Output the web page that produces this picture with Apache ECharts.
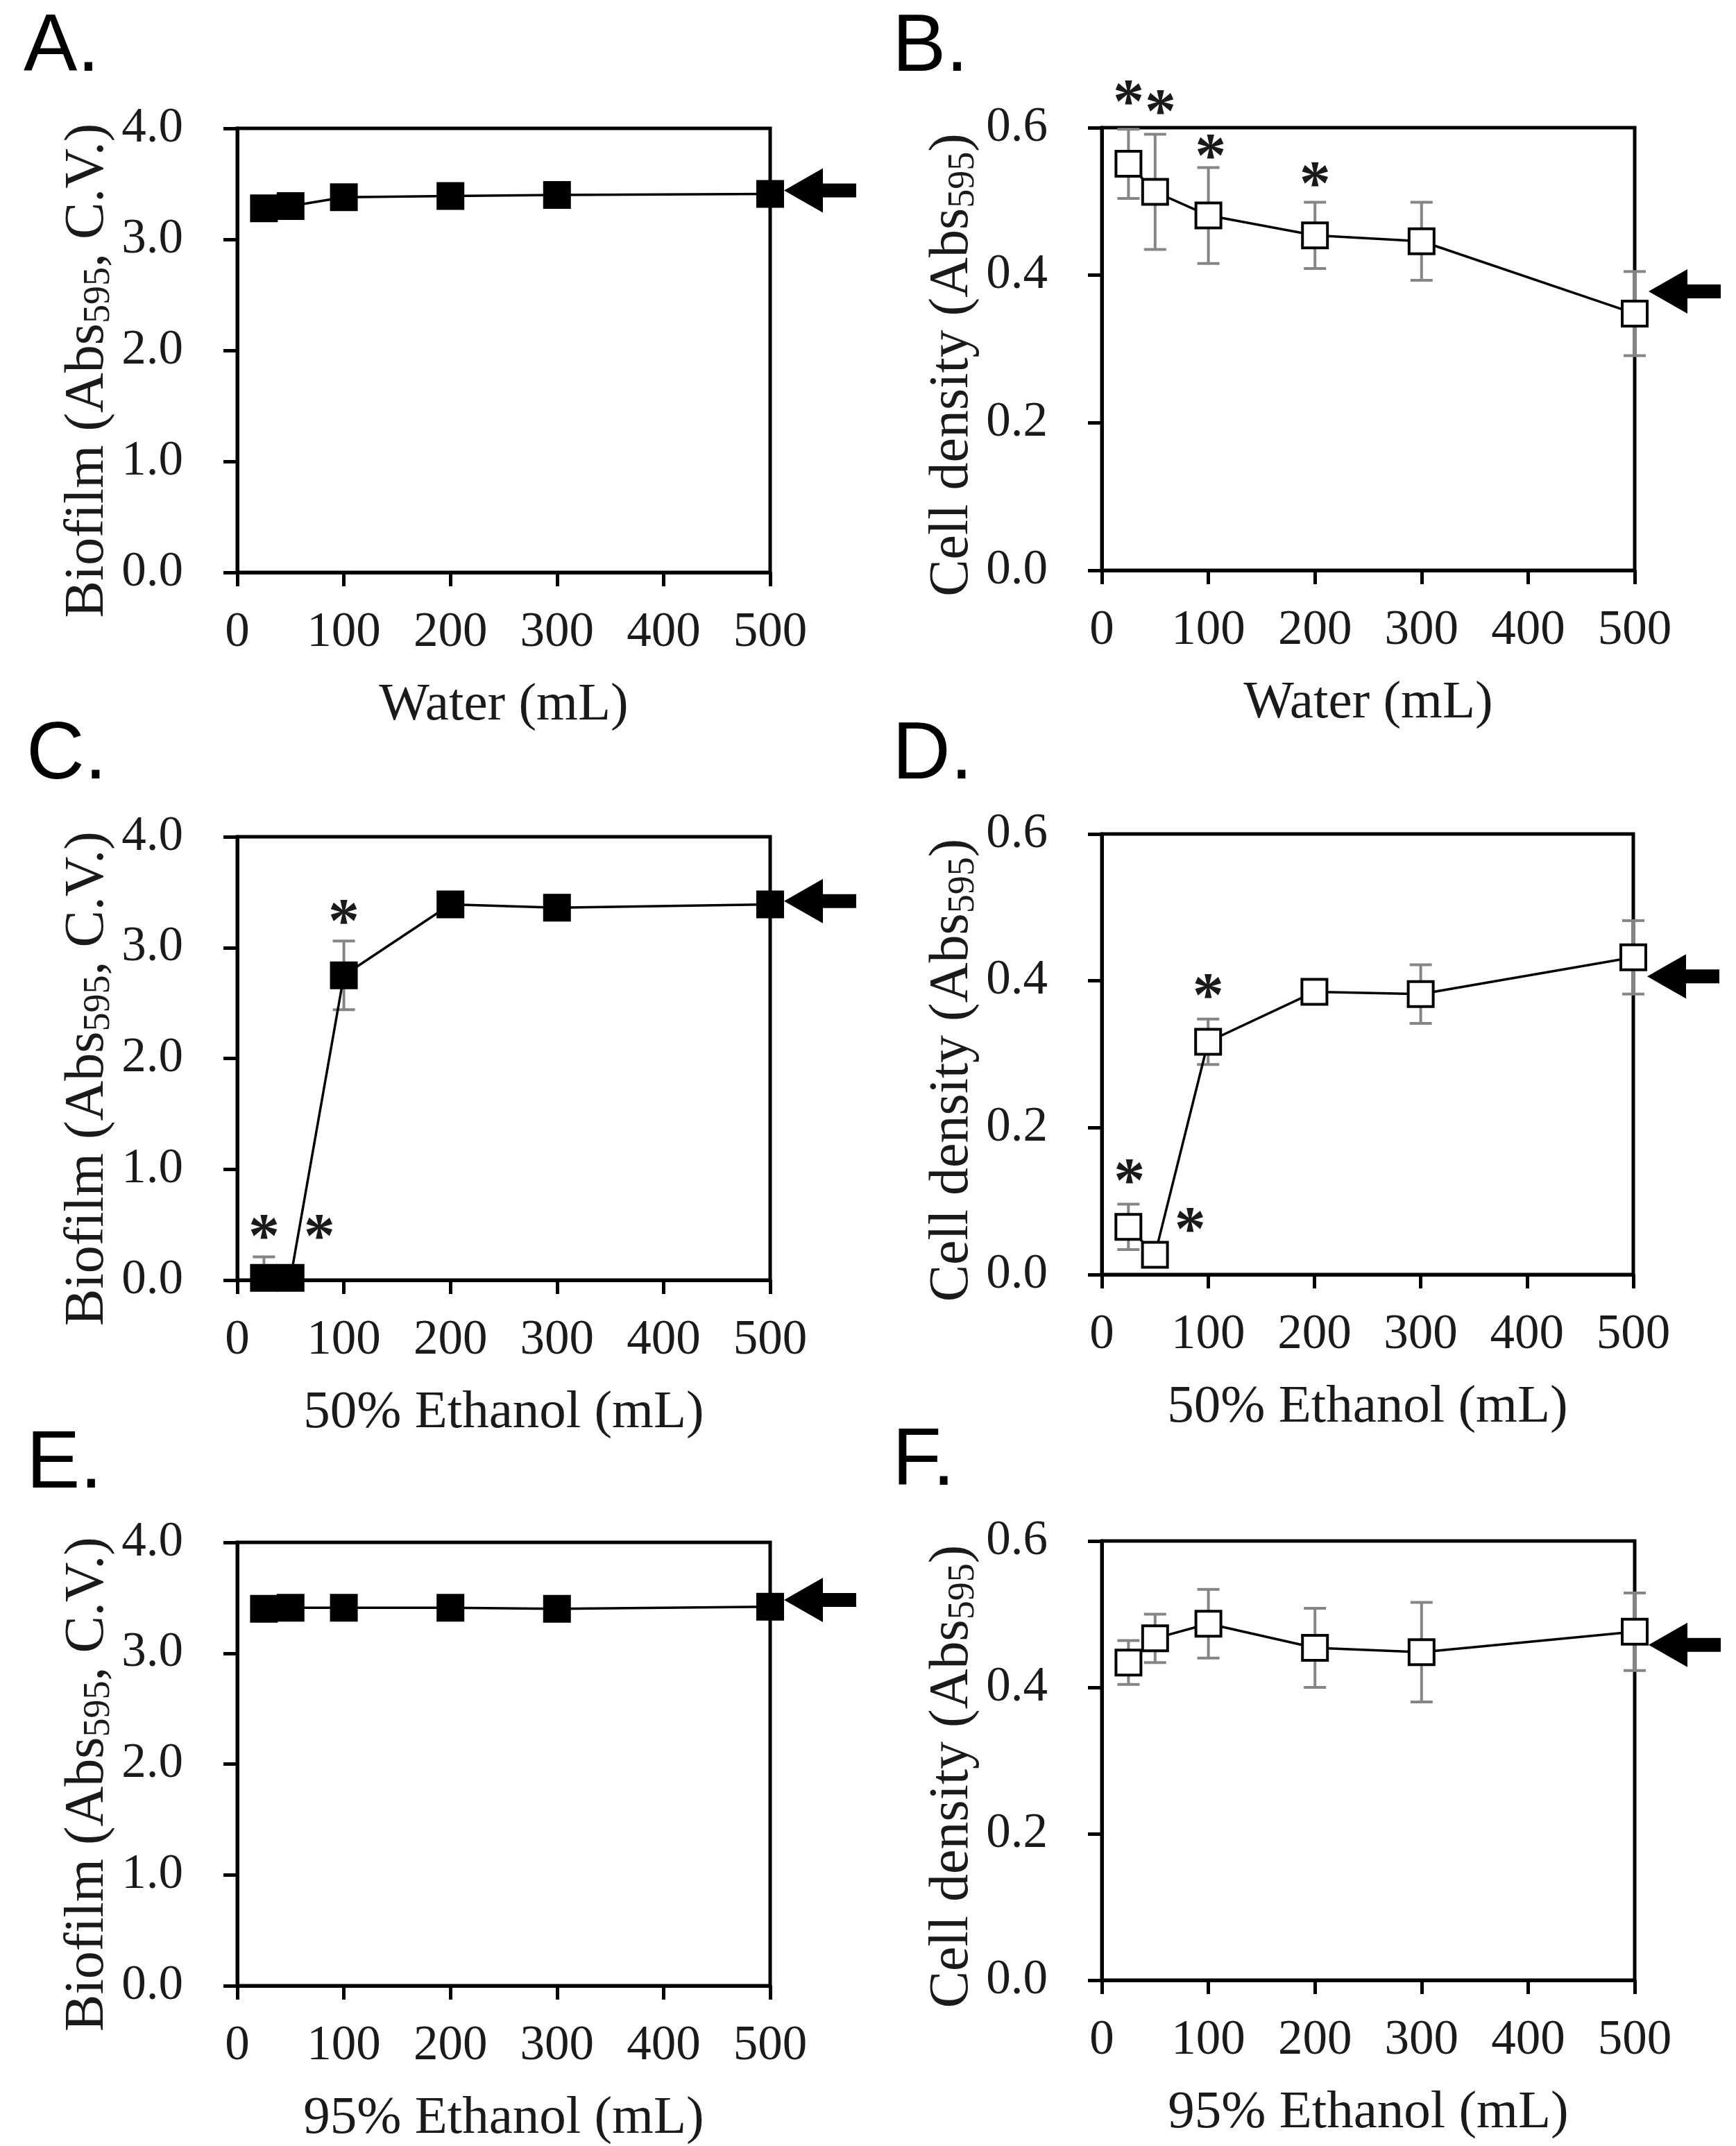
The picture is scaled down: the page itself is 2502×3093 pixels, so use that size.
<!DOCTYPE html>
<html>
<head>
<meta charset="utf-8">
<script src="https://cdn.jsdelivr.net/npm/echarts@6/dist/echarts.min.js"></script>
<style>
html,body{margin:0;padding:0;background:#fff;}
#chart{width:2502px;height:3093px;}
</style>
</head>
<body>
<div id="chart"></div>
<script>
// ---- data ----
const volumes = [25, 50, 100, 200, 300, 500];
const xTicks = [0, 100, 200, 300, 400, 500];
const biofilmTicks = [0, 1, 2, 3, 4];
const densityTicks = [0, 0.2, 0.4, 0.6];

const biofilmWater = [3.28, 3.30, 3.38, 3.39, 3.40, 3.41];
const biofilmWaterErr = [0.04, 0.05, 0.04, 0.04, 0.04, 0.05];
const densityWater = [0.551, 0.513, 0.481, 0.454, 0.446, 0.348];
const densityWaterErr = [0.047, 0.078, 0.065, 0.045, 0.053, 0.057];

const biofilmEth50 = [0.02, 0.02, 2.75, 3.39, 3.36, 3.39];
const biofilmEth50Err = [0.19, 0.03, 0.31, 0.05, 0.05, 0.04];
const densityEth50 = [0.065, 0.027, 0.317, 0.385, 0.382, 0.432];
const densityEth50Err = [0.031, 0.008, 0.031, 0.012, 0.040, 0.050];

const biofilmEth95 = [3.40, 3.41, 3.41, 3.41, 3.40, 3.42];
const biofilmEth95Err = [0.03, 0.03, 0.03, 0.03, 0.03, 0.03];
const densityEth95 = [0.434, 0.467, 0.487, 0.454, 0.448, 0.476];
const densityEth95Err = [0.030, 0.033, 0.047, 0.054, 0.068, 0.053];

// significance asterisks [x, y] and control arrows (y level)
const sigA = [];
const sigB = [[25, 0.646], [55, 0.633], [102, 0.573], [200, 0.535]];
const sigC = [[25, 0.47], [77, 0.47], [100, 3.31]];
const sigD = [[26, 0.139], [83, 0.073], [100, 0.391]];
const sigE = [];
const sigF = [];
const arrowLevels = [3.44, 0.378, 3.42, 0.406, 3.48, 0.458];

const panelLetters = ['A.', 'B.', 'C.', 'D.', 'E.', 'F.'];
const xNames = ['Water (mL)', 'Water (mL)', '50% Ethanol (mL)', '50% Ethanol (mL)', '95% Ethanol (mL)', '95% Ethanol (mL)'];

// ---- layout ----
const grids = [
  {left: 342, top: 185, width: 768, height: 640},
  {left: 1588, top: 184, width: 768, height: 638},
  {left: 342, top: 1206, width: 768, height: 639},
  {left: 1588, top: 1202, width: 766, height: 635},
  {left: 342, top: 2223, width: 768, height: 641},
  {left: 1588, top: 2221, width: 768, height: 633}
];
const letterPos = [[34, 12], [1286, 12], [38, 1032], [1286, 1032], [38, 2054], [1286, 2050]];

const panels = [
  {vals: biofilmWater, err: biofilmWaterErr, sig: sigA, kind: 'bio'},
  {vals: densityWater, err: densityWaterErr, sig: sigB, kind: 'den'},
  {vals: biofilmEth50, err: biofilmEth50Err, sig: sigC, kind: 'bio'},
  {vals: densityEth50, err: densityEth50Err, sig: sigD, kind: 'den'},
  {vals: biofilmEth95, err: biofilmEth95Err, sig: sigE, kind: 'bio'},
  {vals: densityEth95, err: densityEth95Err, sig: sigF, kind: 'den'}
];

const SERIF = "'Liberation Serif','Times New Roman',serif";
const SANS = "'Liberation Sans',Arial,sans-serif";
const TXT = '#1a1a1a';

const arrowPath = 'path://M0,32 L56,0 L56,22 L104,22 L104,42 L56,42 L56,64 Z';

function makeErrRender(yMin) {
  return function (params, api) {
    const x = api.value(0), lo = Math.max(yMin, api.value(1)), hi = api.value(2);
    const p1 = api.coord([x, hi]);
    const p2 = api.coord([x, lo]);
    const hw = 16;
    const st = {stroke: '#858585', lineWidth: 4};
    const kids = [
      {type: 'line', shape: {x1: p1[0], y1: p1[1], x2: p2[0], y2: p2[1]}, style: st},
      {type: 'line', shape: {x1: p1[0] - hw, y1: p1[1], x2: p1[0] + hw, y2: p1[1]}, style: st}
    ];
    if (api.value(1) >= yMin) {
      kids.push({type: 'line', shape: {x1: p2[0] - hw, y1: p2[1], x2: p2[0] + hw, y2: p2[1]}, style: st});
    }
    return {type: 'group', children: kids};
  };
}

const option = {
  backgroundColor: '#fff',
  animation: false,
  grid: [], xAxis: [], yAxis: [], series: [], graphic: []
};

panels.forEach((p, i) => {
  const g = grids[i];
  const isBio = p.kind === 'bio';
  const ticks = isBio ? biofilmTicks : densityTicks;
  const yMin = ticks[0], yMax = ticks[ticks.length - 1];
  option.grid.push(Object.assign({show: true, borderColor: '#000', borderWidth: 5, backgroundColor: 'transparent', containLabel: false}, g));
  option.xAxis.push({
    type: 'value', gridIndex: i, min: xTicks[0], max: xTicks[xTicks.length - 1], interval: xTicks[1] - xTicks[0],
    splitLine: {show: false},
    axisLine: {show: true, onZero: false, lineStyle: {color: '#000', width: 5}},
    axisTick: {show: true, inside: false, length: 20, lineStyle: {color: '#000', width: 5}},
    axisLabel: {fontFamily: SERIF, fontSize: 71, color: TXT, margin: 52},
    name: xNames[i], nameLocation: 'middle', nameGap: 153,
    nameTextStyle: {fontFamily: SERIF, fontSize: 77, color: TXT}
  });
  option.yAxis.push({
    type: 'value', gridIndex: i, min: yMin, max: yMax, interval: ticks[1] - ticks[0],
    splitLine: {show: false},
    axisLine: {show: true, onZero: false, lineStyle: {color: '#000', width: 5}},
    axisTick: {show: true, inside: false, length: 20, lineStyle: {color: '#000', width: 5}},
    axisLabel: {fontFamily: SERIF, fontSize: 71, color: TXT, margin: 78, formatter: v => v.toFixed(1)},
    name: isBio ? 'Biofilm (Abs{sub|595}, C.V.)' : 'Cell density (Abs{sub|595})',
    nameLocation: 'middle', nameGap: 172,
    nameTextStyle: {fontFamily: SERIF, fontSize: 80, color: TXT, lineHeight: 86,
      padding: isBio ? [0, 58, 0, 0] : [0, 46, 0, 0],
      rich: {sub: {fontFamily: SERIF, fontSize: 54, color: TXT, lineHeight: 30, verticalAlign: 'bottom'}}}
  });
  // error bars
  option.series.push({
    type: 'custom', xAxisIndex: i, yAxisIndex: i, z: 1,
    renderItem: makeErrRender(yMin),
    encode: {x: 0, y: [1, 2]},
    data: volumes.map((v, k) => [v, p.vals[k] - p.err[k], p.vals[k] + p.err[k]])
  });
  // markers + line; asterisks above the top edge are anchored at the edge and shifted up in pixels
  const mp = p.sig.map(s => {
    const over = Math.max(0, s[1] - yMax);
    const lift = over / (yMax - yMin) * g.height;
    return {
      coord: [s[0], Math.min(s[1], yMax)], symbol: 'rect', symbolSize: 1, itemStyle: {color: 'rgba(0,0,0,0)'},
      label: {show: true, formatter: '*', position: 'inside', offset: [0, 18 - lift], fontFamily: SERIF, fontWeight: 'bold', fontSize: 90, color: TXT}
    };
  });
  mp.push({
    coord: [volumes[volumes.length - 1], arrowLevels[i]], symbol: arrowPath, symbolSize: [104, 64],
    symbolKeepAspect: false, symbolOffset: [72, 0], itemStyle: {color: '#000'}, label: {show: false}
  });
  option.series.push({
    type: 'line', xAxisIndex: i, yAxisIndex: i, z: 3, clip: false,
    data: volumes.map((v, k) => [v, p.vals[k]]),
    symbol: 'rect', symbolSize: isBio ? 40 : 36, showAllSymbol: true,
    lineStyle: {color: '#000', width: 3.5},
    itemStyle: isBio ? {color: '#000', borderColor: '#000', borderWidth: 0} : {color: '#fff', borderColor: '#000', borderWidth: 4},
    markPoint: {silent: true, data: mp}
  });
  option.graphic.push({
    type: 'text', left: letterPos[i][0], top: letterPos[i][1],
    style: {text: panelLetters[i], fontFamily: SANS, fontSize: 116, fill: '#000'}
  });
});

const chart = echarts.init(document.getElementById('chart'), null, {renderer: 'canvas'});
chart.setOption(option);
</script>
</body>
</html>
